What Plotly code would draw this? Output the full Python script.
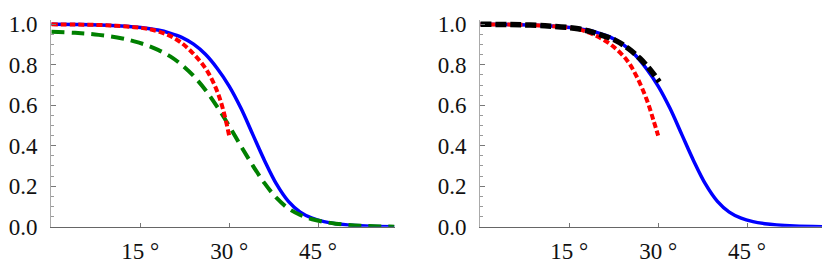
import plotly.graph_objects as go

# angles in degrees
blue_x = [0, 4, 8, 11, 14, 16, 18, 20, 22, 24, 26, 28, 30, 32, 34, 36, 38, 40,
          42, 44, 46, 48, 50, 53, 57.9]
blue_y = [1.0, 0.999, 0.997, 0.993, 0.987, 0.981, 0.972, 0.957, 0.936, 0.902, 0.852,
          0.782, 0.695, 0.585, 0.455, 0.325, 0.21, 0.125, 0.072, 0.042, 0.025,
          0.015, 0.009, 0.004, 0.0]

red_left_x = [0, 4, 8, 11, 14, 16.6, 19.5, 21.7, 23.9, 26.2, 27.9, 29, 30]
red_left_y = [1.0, 0.999, 0.997, 0.993, 0.986, 0.976, 0.95, 0.914, 0.857, 0.774,
              0.675, 0.577, 0.45]

green_x = [0, 4, 8, 12, 14, 16, 18, 20, 22, 24, 26, 28, 30, 32, 34, 36, 38, 40,
           42, 44, 46, 48, 50, 53, 57.9]
green_y = [0.963, 0.958, 0.948, 0.930, 0.916, 0.898, 0.874, 0.843, 0.800, 0.745,
           0.676, 0.592, 0.498, 0.398, 0.302, 0.214, 0.142, 0.09, 0.058, 0.037,
           0.024, 0.015, 0.009, 0.004, 0.0]

red_right_x = [0, 4, 8, 11, 14, 16.5, 19.3, 22.1, 24.7, 26.4, 28.1, 29.2, 30]
red_right_y = [1.0, 0.999, 0.997, 0.993, 0.986, 0.976, 0.947, 0.898, 0.824, 0.741,
               0.626, 0.527, 0.45]

black_x = [0, 5, 10.9, 16.5, 19.3, 22.7, 25, 26.9, 28.6, 30.2]
black_y = [1.0, 0.999, 0.993, 0.978, 0.958, 0.922, 0.88, 0.832, 0.778, 0.716]

x_ticks = [15, 30, 45]
x_labels = ["15 °", "30 °", "45 °"]
y_ticks = [0, 0.2, 0.4, 0.6, 0.8, 1.0]
y_labels = ["0.0", "0.2", "0.4", "0.6", "0.8", "1.0"]

FONT = "Liberation Serif"


def line(x, y, color, width, dash, xa, ya):
    return go.Scatter(x=x, y=y, mode="lines", xaxis=xa, yaxis=ya, showlegend=False,
                      line=dict(color=color, width=width, dash=dash,
                                shape="spline", smoothing=1),
                      hoverinfo="skip")


fig = go.Figure()
fig.add_trace(line(blue_x, blue_y, "#0000ff", 3.5, "solid", "x", "y"))
fig.add_trace(line(green_x, green_y, "#008000", 4, "13px,7px", "x", "y"))
fig.add_trace(line(red_left_x, red_left_y, "#ff0000", 4, "6px,3px", "x", "y"))
fig.add_trace(line(blue_x, blue_y, "#0000ff", 3.5, "solid", "x2", "y2"))
fig.add_trace(line(red_right_x, red_right_y, "#ff0000", 4, "6px,3px", "x2", "y2"))
fig.add_trace(line(black_x, black_y, "#000000", 5.5, "11px,4px", "x2", "y2"))

xcommon = dict(range=[0, 57.9], tickvals=x_ticks, ticktext=x_labels,
               ticks="inside", ticklen=4, tickcolor="#777777", tickwidth=1,
               showline=True, linecolor="#666666", linewidth=1.2,
               showgrid=False, zeroline=False, ticklabelstandoff=4,
               automargin=False,
               tickfont=dict(family=FONT, size=23, color="#111111"))
ycommon = dict(range=[0, 1.02], tickvals=y_ticks, ticktext=y_labels,
               ticks="inside", ticklen=5, tickcolor="#777777", tickwidth=1,
               minor=dict(dtick=0.05, tick0=0, ticks="inside", ticklen=3,
                          tickcolor="#999999", tickwidth=1),
               showline=True, linecolor="#aaaaaa", linewidth=1.2,
               showgrid=False, zeroline=False, ticklabelstandoff=8,
               automargin=False,
               tickfont=dict(family=FONT, size=23, color="#111111"))

# the page body adds an 8px offset, so the figure is 822x264 and domains
# are computed in figure pixels
fig.update_layout(
    width=822, height=264,
    margin=dict(l=0, r=0, t=0, b=0, autoexpand=False),
    paper_bgcolor="white", plot_bgcolor="white",
    xaxis=dict(domain=[0.0527, 0.4702], anchor="y", **xcommon),
    yaxis=dict(domain=[0.1716, 0.9534], anchor="x", **ycommon),
    xaxis2=dict(domain=[0.5746, 0.9921], anchor="y2", **xcommon),
    yaxis2=dict(domain=[0.1716, 0.9534], anchor="x2", **ycommon),
)

fig.write_html("out.html")
